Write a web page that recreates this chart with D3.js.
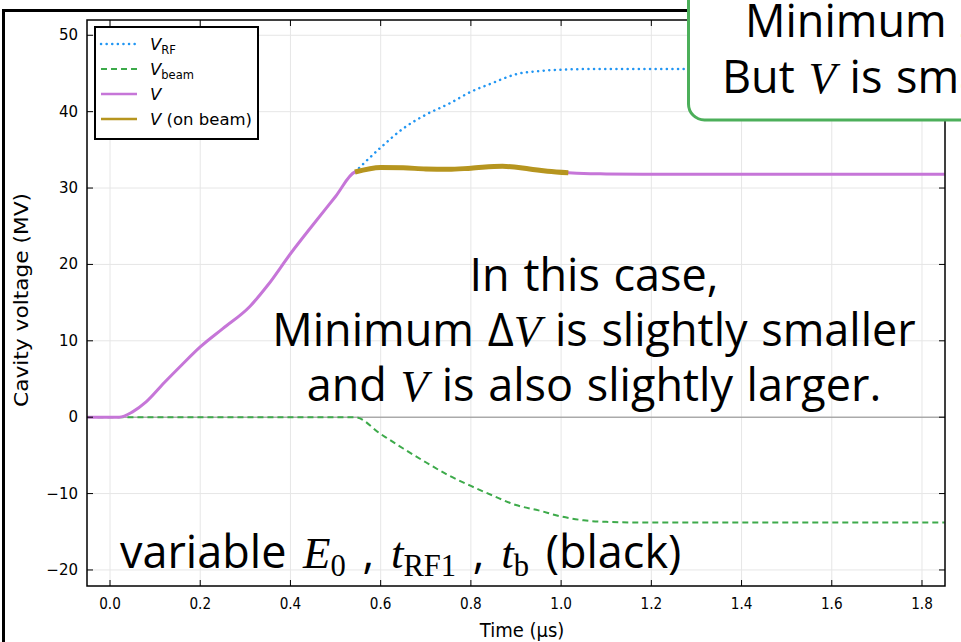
<!DOCTYPE html>
<html>
<head>
<meta charset="utf-8">
<script src="https://cdn.jsdelivr.net/npm/d3@7"></script>
<style>
  body { margin: 0; background: white; }
  svg { display: block; }
</style>
</head>
<body>
<div id="chart"></div>
<script>
// data (time in µs, voltage in MV)
var tV = [-0.05, 0.0, 0.02, 0.05, 0.08, 0.12, 0.16, 0.2, 0.25, 0.31, 0.35, 0.4, 0.45, 0.5, 0.543,
          0.6, 0.65, 0.7, 0.75, 0.8, 0.87, 0.93, 0.97, 1.016, 1.05, 1.1, 1.2, 1.4, 1.6, 1.85];
var vV = [0, 0, 0, 0.7, 2.0, 4.5, 6.9, 9.2, 11.6, 14.5, 17.3, 21.4, 25.2, 28.9, 32.1,
          32.7, 32.65, 32.5, 32.45, 32.6, 32.85, 32.5, 32.2, 32.0, 31.9, 31.85, 31.8, 31.8, 31.8, 31.8];

var tOnBeam = [0.543, 0.6, 0.65, 0.7, 0.75, 0.8, 0.87, 0.93, 0.97, 1.016];
var vOnBeam = [32.1, 32.7, 32.65, 32.5, 32.45, 32.6, 32.85, 32.5, 32.2, 32.0];

var tRF = [0.543, 0.6, 0.65, 0.7, 0.75, 0.8, 0.85, 0.9, 0.95, 1.0, 1.1, 1.2, 1.4, 1.6, 1.85];
var vRF = [32.1, 35.3, 37.8, 39.6, 41.0, 42.6, 43.8, 44.9, 45.3, 45.5, 45.6, 45.6, 45.6, 45.6, 45.6];

var tBeam = [-0.05, 0.543, 0.6, 0.65, 0.7, 0.75, 0.8, 0.85, 0.9, 0.95, 1.0, 1.05, 1.1, 1.2, 1.4, 1.85];
var vBeam = [0, 0, -2.2, -4.1, -5.9, -7.6, -9.0, -10.3, -11.5, -12.2, -13.0, -13.5, -13.7, -13.8, -13.8, -13.8];

var xTicks = [0.0, 0.2, 0.4, 0.6, 0.8, 1.0, 1.2, 1.4, 1.6, 1.8];
var yTicks = [-20, -10, 0, 10, 20, 30, 40, 50];

var W = 961, H = 642;
var plot = { left: 87, right: 945, top: 20, bottom: 586 };

var svg = d3.select("#chart").append("svg")
  .attr("width", W).attr("height", H);

var x = d3.scaleLinear().domain([-0.051, 1.851]).range([plot.left, plot.right]);
var y = d3.scaleLinear().domain([-22.1, 52]).range([plot.bottom, plot.top]);

// outer black frame of the slide
svg.append("rect")
  .attr("x", 3.5).attr("y", 10.5).attr("width", 1100).attr("height", 800)
  .attr("fill", "none").attr("stroke", "black").attr("stroke-width", 3);

var g = svg.append("g");

// grid
g.selectAll(".gx").data(xTicks).join("line")
  .attr("x1", d => x(d)).attr("x2", d => x(d))
  .attr("y1", plot.top).attr("y2", plot.bottom)
  .attr("stroke", "#e6e6e6").attr("stroke-width", 1);
g.selectAll(".gy").data(yTicks).join("line")
  .attr("y1", d => y(d)).attr("y2", d => y(d))
  .attr("x1", plot.left).attr("x2", plot.right)
  .attr("stroke", "#e6e6e6").attr("stroke-width", 1);

// zero line
g.append("line")
  .attr("x1", plot.left).attr("x2", plot.right)
  .attr("y1", y(0)).attr("y2", y(0))
  .attr("stroke", "#8c8c8c").attr("stroke-width", 1);

function series(ts, vs) { return ts.map((t, i) => [t, vs[i]]); }
var line = d3.line().x(d => x(d[0])).y(d => y(d[1])).curve(d3.curveMonotoneX);

svg.append("clipPath").attr("id", "clip").append("rect")
  .attr("x", plot.left).attr("y", plot.top)
  .attr("width", plot.right - plot.left).attr("height", plot.bottom - plot.top);
var lines = g.append("g").attr("clip-path", "url(#clip)");

var colRF = "#2196f3", colBeam = "#3daa4a", colV = "#c676d8", colOn = "#b6951f";
var dotDash = "0.1,5.5", beamDash = "6,4";

lines.append("path").attr("d", line(series(tRF, vRF)))
  .attr("fill", "none").attr("stroke", colRF).attr("stroke-width", 2.5)
  .attr("stroke-dasharray", dotDash).attr("stroke-linecap", "round");
lines.append("path").attr("d", line(series(tBeam, vBeam)))
  .attr("fill", "none").attr("stroke", colBeam).attr("stroke-width", 2)
  .attr("stroke-dasharray", beamDash);
lines.append("path").attr("d", line(series(tV, vV)))
  .attr("fill", "none").attr("stroke", colV).attr("stroke-width", 3);
lines.append("path").attr("d", line(series(tOnBeam, vOnBeam)))
  .attr("fill", "none").attr("stroke", colOn).attr("stroke-width", 5);

// frame with inward ticks
g.append("rect")
  .attr("x", plot.left).attr("y", plot.top)
  .attr("width", plot.right - plot.left).attr("height", plot.bottom - plot.top)
  .attr("fill", "none").attr("stroke", "black").attr("stroke-width", 1.5);

var tk = 6;
xTicks.forEach(function (d) {
  g.append("line").attr("x1", x(d)).attr("x2", x(d)).attr("y1", plot.bottom).attr("y2", plot.bottom - tk).attr("stroke", "black");
  g.append("line").attr("x1", x(d)).attr("x2", x(d)).attr("y1", plot.top).attr("y2", plot.top + tk).attr("stroke", "black");
});
yTicks.forEach(function (d) {
  g.append("line").attr("y1", y(d)).attr("y2", y(d)).attr("x1", plot.left).attr("x2", plot.left + tk).attr("stroke", "black");
  g.append("line").attr("y1", y(d)).attr("y2", y(d)).attr("x1", plot.right).attr("x2", plot.right - tk).attr("stroke", "black");
});

var tickFont = "'DejaVu Sans', sans-serif";
g.selectAll(".xl").data(xTicks).join("text")
  .attr("transform", d => "translate(" + x(d) + "," + (plot.bottom + 23) + ") scale(0.85,1)")
  .attr("text-anchor", "middle").attr("font-family", tickFont).attr("font-size", 16)
  .text(d3.format(".1f"));
g.selectAll(".yl").data(yTicks).join("text")
  .attr("x", plot.left - 9).attr("y", d => y(d) + 5)
  .attr("text-anchor", "end").attr("font-family", tickFont).attr("font-size", 15)
  .text(d3.format(""));

svg.append("text")
  .attr("transform", "translate(28,300) rotate(-90)")
  .attr("text-anchor", "middle").attr("font-family", tickFont).attr("font-size", 19)
  .attr("textLength", 214).attr("lengthAdjust", "spacingAndGlyphs")
  .text("Cavity voltage (MV)");
svg.append("text")
  .attr("transform", "translate(" + ((plot.left + plot.right) / 2 + 6) + ",637) scale(0.9,1)")
  .attr("text-anchor", "middle").attr("font-family", tickFont).attr("font-size", 20)
  .text("Time (μs)");

// legend
var legend = svg.append("g").attr("transform", "translate(95,27)");
legend.append("rect").attr("width", 163).attr("height", 112)
  .attr("fill", "white").attr("stroke", "black").attr("stroke-width", 2);
var legItems = [
  { sym: "V", sub: "RF", rest: "", color: colRF, dash: dotDash, w: 2.5 },
  { sym: "V", sub: "beam", rest: "", color: colBeam, dash: beamDash, w: 2 },
  { sym: "V", sub: "", rest: "", color: colV, dash: null, w: 2.5 },
  { sym: "V", sub: "", rest: " (on beam)", color: colOn, dash: null, w: 2.5 }
];
legItems.forEach(function (d, i) {
  var ly = 17 + i * 25;
  legend.append("line").attr("x1", 6).attr("x2", 42).attr("y1", ly).attr("y2", ly)
    .attr("stroke", d.color).attr("stroke-width", d.w)
    .attr("stroke-dasharray", d.dash).attr("stroke-linecap", d.dash === dotDash ? "round" : "butt");
  var t = legend.append("text").attr("x", 55).attr("y", ly + 6)
    .attr("font-family", tickFont).attr("font-size", 16.5);
  t.append("tspan").attr("font-style", "italic").text(d.sym);
  if (d.sub) t.append("tspan").attr("font-size", 11.5).attr("dy", 4).text(d.sub);
  if (d.rest) t.append("tspan").text(d.rest);
});

// annotations
var annFont = "'Open Sans', 'Noto Sans', sans-serif";
var mathFont = "'Liberation Serif', 'DejaVu Serif', serif";
var fs = 45;

function addRich(sel, parts) {
  parts.forEach(function (p) {
    var ts = sel.append("tspan").text(p.t);
    if (p.it) ts.attr("font-family", mathFont).attr("font-style", "italic");
    if (p.math) ts.attr("font-family", mathFont);
    if (p.small) ts.attr("font-size", fs * 0.68);
    if (p.dy) ts.attr("dy", p.dy);
  });
}

var mid = svg.append("g").attr("font-family", annFont).attr("font-size", fs)
  .attr("word-spacing", 2).attr("text-anchor", "middle");
mid.append("text").attr("x", 594).attr("y", 291).text("In this case,");
addRich(mid.append("text").attr("x", 594).attr("y", 346),
  [{ t: "Minimum " }, { t: "Δ" }, { t: "V", it: 1 }, { t: " is slightly smaller" }]);
addRich(mid.append("text").attr("x", 594).attr("y", 401),
  [{ t: "and " }, { t: "V", it: 1 }, { t: " is also slightly larger." }]);

addRich(svg.append("text").attr("x", 120).attr("y", 568)
  .attr("font-family", annFont).attr("font-size", fs).attr("word-spacing", 5),
  [{ t: "variable " }, { t: "E", it: 1 }, { t: "0", math: 1, small: 1, dy: 8 }, { t: " , ", dy: -8 },
   { t: "t", it: 1 }, { t: "RF1", math: 1, small: 1, dy: 8 }, { t: " , ", dy: -8 },
   { t: "t", it: 1 }, { t: "b", math: 1, small: 1, dy: 8 }, { t: " (black)", dy: -8 }]);

// green callout box at top right
svg.append("rect")
  .attr("x", 688.5).attr("y", -30).attr("width", 320).attr("height", 150)
  .attr("rx", 16).attr("fill", "white").attr("stroke", "#4caf5a").attr("stroke-width", 3);
var box = svg.append("g").attr("font-family", annFont).attr("font-size", fs).attr("word-spacing", 2);
addRich(box.append("text").attr("x", 745).attr("y", 37),
  [{ t: "Minimum " }, { t: "Δ" }, { t: "V", it: 1 }, { t: " is smaller." }]);
addRich(box.append("text").attr("x", 722).attr("y", 93),
  [{ t: "But " }, { t: "V", it: 1 }, { t: " is smaller." }]);
</script>
</body>
</html>
